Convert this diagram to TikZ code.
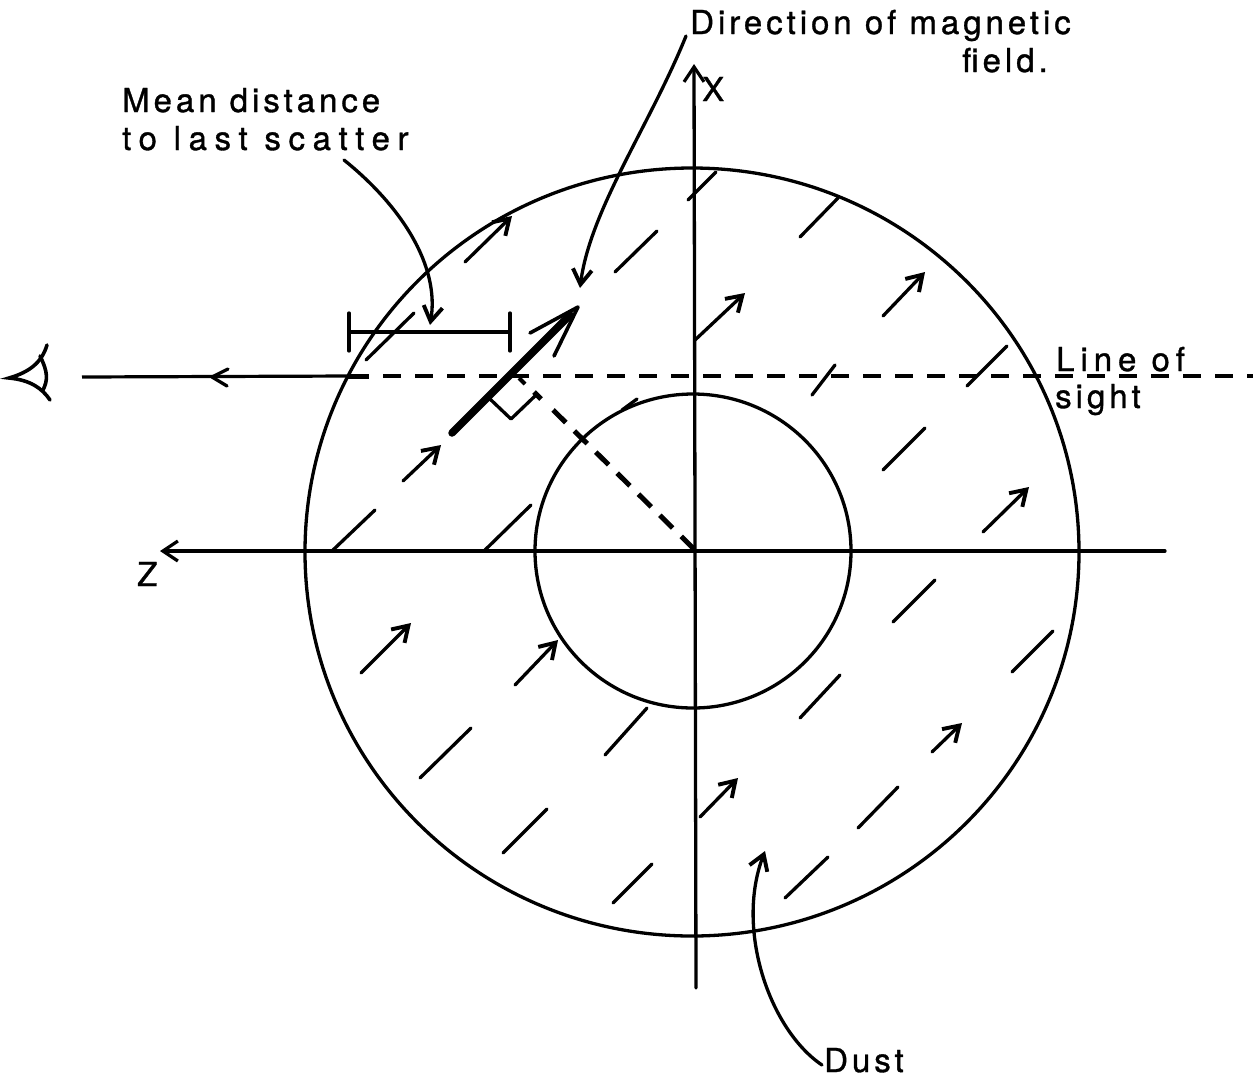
\documentclass[tikz,border=0pt]{standalone}
\usepackage{fontspec}
\setmainfont{TeX Gyre Heros}[LetterSpace=12,FakeBold=1]
\newfontface\widefont{TeX Gyre Heros}[LetterSpace=23,FakeBold=1]
\newfontface\midfont{TeX Gyre Heros}[LetterSpace=18,FakeBold=1]
\usetikzlibrary{arrows.meta}
\tikzset{
  ln/.style={line width=3.3pt,line cap=round,line join=round},
  opentip/.style={-{Straight Barb[length=15pt,width=20pt,line width=3.2pt]}},
  smalltip/.style={-{Straight Barb[length=15pt,width=19pt,line width=3.9pt]}},
  lbl/.style={inner sep=0pt,anchor=base west,font=\fontsize{33}{38}\selectfont}
}
\begin{document}
\begin{tikzpicture}[x=1pt,y=-1pt]
\useasboundingbox (0,0) rectangle (1255,1077);
% circles
\draw[ln] (692,552) ellipse [x radius=387,y radius=384];
\draw[ln] (693,551) ellipse [x radius=158,y radius=157];
% axes
\draw[ln,opentip] (696,988) -- (694,64);
\draw[ln,opentip] (1165,551) -- (160,551);
% plain hatching
\foreach \a/\b/\c/\d in {
 688/200/716/172, 800/237/838/198, 615/272/657/231, 366/360/414/313,
 967/386/1007/346, 812/395/835/365, 883/470/925/428, 333/550/375/510,
 485/550/531/505, 420/778/471/728, 605/755/647/708, 503/853/547/809,
 800/718/840/675, 893/622/935/580, 1012/672/1053/631, 858/828/898/787,
 785/898/828/857, 613/903/652/864}
  \draw[ln] (\a,\b) -- (\c,\d);
% hatching with arrowheads
\foreach \a/\b/\c/\d in {
 465/262/512/216, 695/340/745/293, 883/316/925/272, 983/532/1029/487,
 403/481/441/445, 361/673/411/623, 515/685/558/640, 700/817/738/778,
 932/752/962/723}
  \draw[ln,smalltip] (\a,\b) -- (\c,\d);
% line of sight
\draw[line width=3.2pt] (350,376) -- (82,377);
\draw[line width=5pt] (348,376) -- (369,376);
\draw[ln] (228,369) -- (212,377) -- (227,386);
\draw[line width=4.2pt,dash pattern=on 18pt off 14pt] (383,376) -- (1253,376);
% eye
\draw[line width=3.6pt,line cap=round] (47,345) .. controls (42,362) and (30,372) .. (9,378) .. controls (30,380) and (42,388) .. (50,400);
\draw[line width=3.6pt,line cap=round] (40,356) .. controls (48,372) and (48,380) .. (43,390);
% thick field arrow
\draw[line width=7.5pt,line cap=round] (452,433) -- (570,315);
\draw[line width=3.6pt,line cap=round,line join=round] (530,333) -- (578,307) -- (554,356);
% perpendicular dashed
\draw[line width=5pt,dash pattern=on 18pt off 12pt] (694,549) -- (545,402);
\draw[line width=5pt] (534,392) -- (541,399);
\draw[line width=4pt] (519,378) -- (525,384);
\draw[ln] (490,399) -- (511,419) -- (535,396);
% distance bar
\draw[ln] (349,313) -- (349,351);
\draw[ln] (510,313) -- (510,351);
\draw[ln] (349,332) -- (510,332);
% small tick on inner circle
\draw[ln] (622,410) -- (637,399);
% labels
\node[lbl] (dir) at (690,34) {Direction of magnetic};
\node[lbl] (fld) at (962,72) {field.};
\node[lbl] (mean) at (122,112) {Mean distance};
\node[lbl] (last) at (122,150) {\widefont to last scatter};
\node[lbl] (los) at (1056,371) {\midfont Line of};
\node[lbl] (sgt) at (1055,408) {sight};
\node[lbl] (xl) at (702,101) {X};
\node[lbl] (zl) at (137,586) {Z};
\node[lbl] (dust) at (824,1072) {Dust};
% leaders
\coordinate (dirfoot) at (686,36);
\coordinate (dirtip) at (580,288);
\coordinate (lastfoot) at (344,160);
\coordinate (lasttip) at (430,325);
\coordinate (dustfoot) at (822,1065);
\coordinate (dusttip) at (765,851);
\draw[ln,smalltip] (dirfoot) .. controls (650,125) and (590,210) .. (dirtip);
\draw[ln,smalltip] (lastfoot) .. controls (400,205) and (440,265) .. (lasttip);
\draw[ln,smalltip] (dustfoot) .. controls (770,1030) and (735,930) .. (dusttip);
\end{tikzpicture}
\end{document}
